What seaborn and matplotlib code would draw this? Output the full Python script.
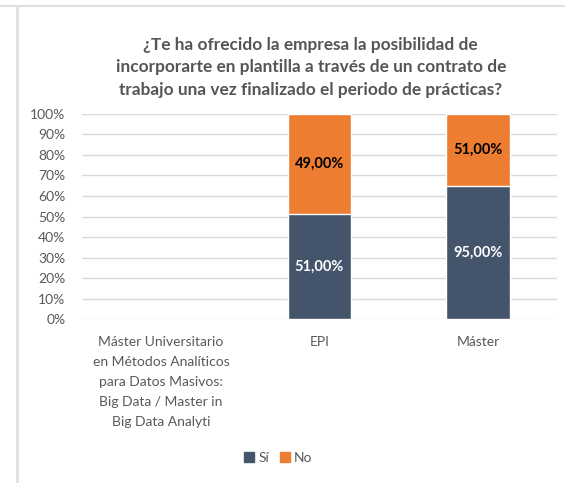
import numpy as np
import pandas as pd
import seaborn as sns
import matplotlib.pyplot as plt
from matplotlib.lines import Line2D

categories = [
    "Máster Universitario\nen Métodos Analíticos\npara Datos Masivos:\nBig Data / Master in\nBig Data Analyti",
    "EPI",
    "Máster",
]
si_values = [0, 51, 95]
no_values = [0, 49, 51]

SI_COLOR = "#44546A"
NO_COLOR = "#ED7D31"
TEXT_COLOR = "#595959"

df = pd.DataFrame({"category": categories, "si": si_values, "no": no_values})
total = (df["si"] + df["no"]).replace(0, np.nan)
df["si_share"] = (df["si"] / total).fillna(0)
df["top_share"] = ((df["si"] + df["no"]) / total).fillna(0)

sns.set_theme(style="white")
plt.rcParams["font.family"] = ["Lato", "DejaVu Sans"]

fig = plt.figure(figsize=(5.65, 4.83), dpi=100)
ax = fig.add_axes([0.145, 0.3395, 0.841, 0.4245])

# stacked 100% bars: draw the full height in orange, then the "Sí" part on top
sns.barplot(data=df, x="category", y="top_share", color=NO_COLOR, width=0.4,
            saturation=1, ax=ax, zorder=3)
sns.barplot(data=df, x="category", y="si_share", color=SI_COLOR, width=0.4,
            saturation=1, ax=ax, zorder=3)

for i, row in df.iterrows():
    if row["si"] + row["no"] == 0:
        continue
    ax.text(i, row["si_share"] / 2, f"{row['si']:.2f}%".replace(".", ","),
            ha="center", va="center", color="white", fontsize=10.5, fontweight="bold", zorder=4)
    ax.text(i, (row["si_share"] + row["top_share"]) / 2, f"{row['no']:.2f}%".replace(".", ","),
            ha="center", va="center", color="black", fontsize=10.5, fontweight="bold", zorder=4)

ax.set_ylim(0, 1)
ax.set_xlim(-0.5, 2.5)
ax.set_yticks(np.arange(0, 1.01, 0.1))
ax.set_yticklabels([f"{int(round(v * 100))}%" for v in np.arange(0, 1.01, 0.1)])
ax.set_xticks(range(len(categories)))
ax.set_xticklabels(categories)
ax.yaxis.grid(True, color="#D9D9D9", linewidth=1, zorder=0)
ax.set_axisbelow(True)
for s in ax.spines.values():
    s.set_visible(False)
ax.tick_params(axis="both", length=0, labelsize=10, colors=TEXT_COLOR)
ax.tick_params(axis="x", pad=12)
ax.tick_params(axis="y", pad=12)
ax.set_xlabel("")
ax.set_ylabel("")
for lbl in ax.get_xticklabels():
    lbl.set_linespacing(1.8)

fig.text(0.55, 0.861,
         "¿Te ha ofrecido la empresa la posibilidad de\nincorporarte en plantilla a través de un contrato de\ntrabajo una vez finalizado el periodo de prácticas?",
         ha="center", va="center", fontsize=12.4, fontweight="bold", color="#555555", linespacing=1.5)

handles = [plt.Rectangle((0, 0), 1, 1, color=SI_COLOR), plt.Rectangle((0, 0), 1, 1, color=NO_COLOR)]
fig.legend(handles, ["Sí", "No"], loc="center", bbox_to_anchor=(0.493, 0.052), ncol=2,
           frameon=False, fontsize=10, handlelength=0.7, handleheight=0.7,
           handletextpad=0.3, columnspacing=0.8, labelcolor=TEXT_COLOR)

# page frame lines
fig.add_artist(Line2D([0, 1], [1 - 6 / 483, 1 - 6 / 483], transform=fig.transFigure,
                      color="#E0E0E0", linewidth=1.5))
fig.add_artist(Line2D([17 / 565, 17 / 565], [0, 1 - 6 / 483], transform=fig.transFigure,
                      color="#E0E0E0", linewidth=2))

fig.savefig("out.png", dpi=100)
